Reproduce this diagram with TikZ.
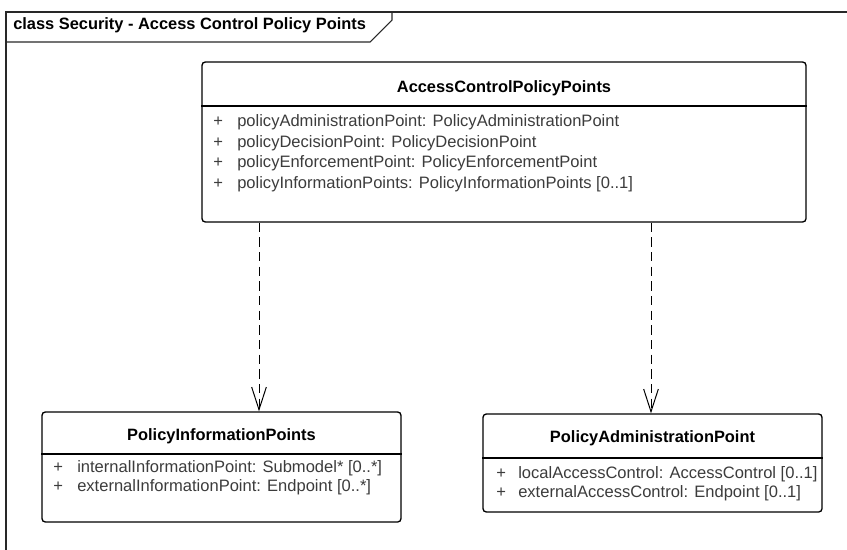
\documentclass[tikz,border=0pt]{standalone}
\usepackage{fontspec}
\setmainfont{Liberation Sans}
\usetikzlibrary{arrows.meta}
\definecolor{attrgray}{RGB}{60,60,60}
\definecolor{framegray}{RGB}{40,40,40}

\begin{document}
\begin{tikzpicture}[x=0.75pt, y=-0.75pt,
		classbox/.style={draw=black, line width=1pt, rounded corners=2.5pt, fill=white, inner sep=0pt},
		classname/.style={font=\fontsize{12.3}{14}\selectfont\bfseries, inner sep=0pt},
		attr/.style={font=\fontsize{12.4}{14}\selectfont, text=attrgray, anchor=mid west, inner sep=0pt},
		dependency/.style={line width=0.75pt, dash pattern=on 7pt off 4pt, -{Straight Barb[length=17pt, width=11pt, line width=0.75pt]}}]
	\useasboundingbox (0,0) rectangle (847,550);
	% Frame
	\draw[framegray, line width=0.8pt] (847,12) -- (6,12) -- (6,550);
	\draw[framegray, line width=0.8pt] (6,42) -- (370,42) -- (392,20) -- (392,12);
	\node[classname, anchor=mid west] (frametitle) at (13,26) {class Security - Access Control Policy Points};
	% AccessControlPolicyPoints
	\node[classbox, minimum width=453pt, minimum height=120pt] (acpp) at (504,142) {};
	\draw[line width=1pt] (acpp.west |- 0,106) -- (acpp.east |- 0,106);
	\node[classname] (acpptitle) at (504,88) {AccessControlPolicyPoints};
	\node[attr] (acppplusa) at (213,123) {+};
	\node[attr] (acppplusb) at (213,144) {+};
	\node[attr] (acppplusc) at (213,164) {+};
	\node[attr] (acppplusd) at (213,185) {+};
	\node[attr] (acppa) at (237,123) {policyAdministrationPoint: PolicyAdministrationPoint};
	\node[attr] (acppb) at (237,144) {policyDecisionPoint: PolicyDecisionPoint};
	\node[attr] (acppc) at (237,164) {policyEnforcementPoint: PolicyEnforcementPoint};
	\node[attr] (acppd) at (237,185) {policyInformationPoints: PolicyInformationPoints [0..1]};
	% PolicyInformationPoints
	\node[classbox, minimum width=269.25pt, minimum height=82.5pt] (pip) at (221.5,467) {};
	\draw[line width=1pt] (pip.west |- 0,454) -- (pip.east |- 0,454);
	\node[classname] (piptitle) at (221.5,436) {PolicyInformationPoints};
	\node[attr] (pipplusa) at (53,469) {+};
	\node[attr] (pipplusb) at (53,488) {+};
	\node[attr] (pipa) at (77,469) {internalInformationPoint: Submodel* [0..*]};
	\node[attr] (pipb) at (77,488) {externalInformationPoint: Endpoint [0..*]};
	% PolicyAdministrationPoint
	\node[classbox, minimum width=254.25pt, minimum height=73.5pt] (pap) at (652.5,463) {};
	\draw[line width=1pt] (pap.west |- 0,458) -- (pap.east |- 0,458);
	\node[classname] (paptitle) at (652.5,438) {PolicyAdministrationPoint};
	\node[attr] (papplusa) at (496,475) {+};
	\node[attr] (papplusb) at (496,494) {+};
	\node[attr] (papa) at (518,475) {localAccessControl: AccessControl [0..1]};
	\node[attr] (papb) at (518,494) {externalAccessControl: Endpoint [0..1]};
	% Dependencies
	\draw[dependency] (acpp.south -| 259,0) -- (pip.north -| 259,0);
	\draw[dependency] (acpp.south -| 651,0) -- (pap.north -| 651,0);
\end{tikzpicture}
\end{document}
